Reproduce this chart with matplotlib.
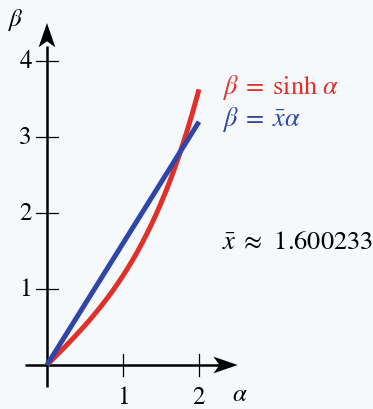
import numpy as np
import matplotlib.pyplot as plt
from matplotlib.patches import Polygon

plt.rcParams['mathtext.fontset'] = 'stix'
plt.rcParams['font.family'] = 'STIXGeneral'

xbar = 1.600233
alpha = np.linspace(0, 2, 200)
x_ticks = [1, 2]
y_ticks = [1, 2, 3, 4]

bg = '#f5f9fc'
red = '#e0302a'
blue = '#2f46a6'

fig = plt.figure(figsize=(3.73, 4.10), dpi=100, facecolor=bg)
ax = fig.add_axes([0, 0, 1, 1])
ax.set_facecolor(bg)
ax.set_xlim(-0.618, 4.29)
ax.set_ylim(-0.579, 4.816)
ax.set_aspect('equal')
ax.axis('off')

# axes lines with stealth-like arrowheads
ax.plot([-0.29, 2.3], [0, 0], color='black', lw=1.8, solid_capstyle='butt')
ax.plot([0, 0], [-0.29, 4.2], color='black', lw=1.8, solid_capstyle='butt')

def head(tip, d):
    tx, ty = tip
    dx, dy = d
    L, W, N = 0.32, 0.11, 0.24
    px, py = -dy, dx
    pts = [(tx, ty),
           (tx - L * dx + W * px, ty - L * dy + W * py),
           (tx - N * dx, ty - N * dy),
           (tx - L * dx - W * px, ty - L * dy - W * py)]
    ax.add_patch(Polygon(pts, closed=True, color='black', lw=0))

head((2.51, 0), (1, 0))
head((0, 4.5), (0, 1))

t = 0.14
for xv in x_ticks:
    ax.plot([xv, xv], [-t, t], color='black', lw=0.9)
    ax.text(xv, -0.42, str(xv), ha='center', va='center', fontsize=18)
for yv in y_ticks:
    ax.plot([-t, t], [yv, yv], color='black', lw=0.9)
    ax.text(-0.2, yv, str(yv), ha='right', va='center', fontsize=18)

ax.text(-0.42, 4.55, r'$\beta$', ha='center', va='center', fontsize=18)
ax.text(2.54, -0.38, r'$\alpha$', ha='center', va='center', fontsize=18)

ax.plot(alpha, np.sinh(alpha), color=red, lw=3.6, solid_capstyle='butt')
ax.plot(alpha, xbar * alpha, color=blue, lw=3.6, solid_capstyle='butt')

ax.text(2.3, 3.66, r'$\beta\;=\;\sinh\,\alpha$', color=red, ha='left', va='center', fontsize=19)
ax.text(2.3, 3.24, r'$\beta\;=\;\bar{x}\alpha$', color=blue, ha='left', va='center', fontsize=19)
ax.text(2.3, 1.62, r'$\bar{x}\;\approx\;\,$' + '%.6f' % xbar, ha='left', va='center', fontsize=19)

fig.savefig('out.png', dpi=100, facecolor=bg)
